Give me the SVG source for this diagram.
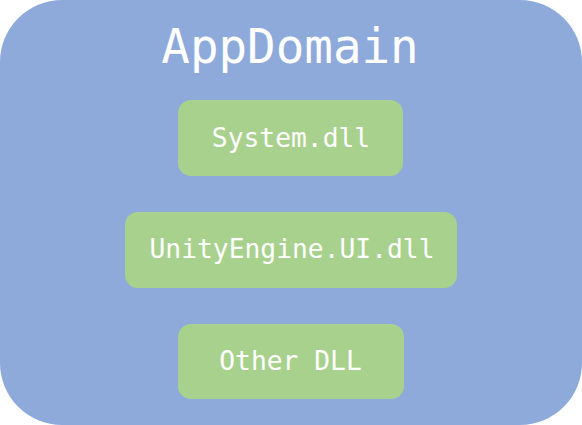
<svg xmlns="http://www.w3.org/2000/svg" width="582" height="425" viewBox="0 0 582 425">
<style>
.box{fill:#A9D18E}
.t{fill:#ffffff;font-family:"DejaVu Sans Mono",monospace;text-anchor:middle}
.l{font-size:26.3px}
</style>
<g id="appdomain">
<rect x="0" y="0" width="582" height="425" rx="62" ry="62" fill="#8EAADB"/>
<text class="t" x="290" y="63" font-size="47.5">AppDomain</text>
</g>
<g id="system">
<rect class="box" x="178" y="100" width="225" height="76" rx="13"/>
<text class="t l" x="291" y="146.5">System.dll</text>
</g>
<g id="unity">
<rect class="box" x="125" y="212" width="332" height="76" rx="13"/>
<text class="t l" x="292" y="258">UnityEngine.UI.dll</text>
</g>
<g id="other">
<rect class="box" x="178" y="324" width="226" height="75" rx="13"/>
<text class="t l" x="290.5" y="370">Other DLL</text>
</g>
<g id="connectors"/>
</svg>
